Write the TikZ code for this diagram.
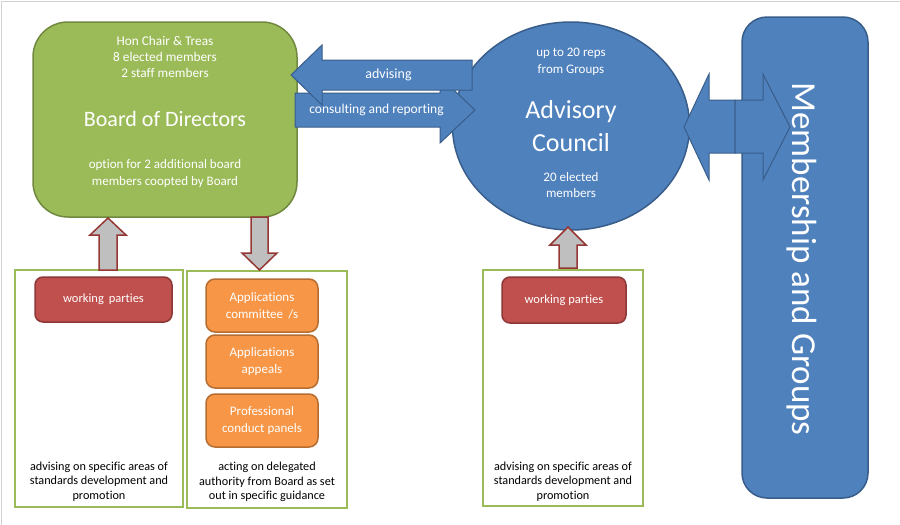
\documentclass[tikz,border=0pt]{standalone}
\usepackage{fontspec}
\setmainfont{Carlito}[Ligatures=NoCommon]
\usetikzlibrary{shapes.geometric}
\usetikzlibrary{positioning}
\definecolor{boardgreen}{HTML}{9BBB59}
\definecolor{boardedge}{HTML}{71893F}
\definecolor{acblue}{HTML}{4F81BD}
\definecolor{acedge}{HTML}{385D8A}
\definecolor{wpred}{HTML}{C0504D}
\definecolor{wpedge}{HTML}{8C3836}
\definecolor{apporange}{HTML}{F79646}
\definecolor{appedge}{HTML}{B66D31}
\definecolor{arrgray}{HTML}{BFBFBF}
\definecolor{arredge}{HTML}{953735}
\newcommand{\fs}[2]{\fontsize{#1}{#2}\selectfont}

\begin{document}
\begin{tikzpicture}[x=1pt,y=-1pt,
    board box/.style={rectangle,rounded corners=35pt,draw=boardedge,fill=boardgreen,line width=1.5pt,minimum width=264pt,minimum height=195pt},
    group box/.style={rectangle,draw=boardgreen,line width=2pt,fill=white,minimum width=168pt,minimum height=237pt},
    wp box/.style={rectangle,rounded corners=8pt,draw=wpedge,fill=wpred,line width=1.5pt,text=white,font=\fs{12.5}{14}},
    app box/.style={rectangle,rounded corners=9pt,draw=appedge,fill=apporange,line width=1.5pt,minimum width=112pt,minimum height=53pt,text=white,align=center,font=\fs{13}{17}},
    wtext/.style={text=white,align=center,inner sep=0pt},
    btext/.style={text=black,align=center,inner sep=0pt,font=\fs{12.2}{14.5}},
    blue arrow/.style={draw=acedge,fill=acblue,line width=1pt,line join=miter},
    gray arrow/.style={draw=arredge,fill=arrgray,line width=1.5pt,line join=miter}]
  \useasboundingbox (0,0) rectangle (900,525);
  \draw[gray!35,line width=1pt] (1.5,525) -- (1.5,1) -- (900,1);

  % board and council
  \node[board box] (board) at (165,119.5) {};
  \node[wtext,font=\fs{13.3}{16}] (boardtop) at (165,57) {Hon Chair \& Treas\\8 elected members\\2 staff members};
  \node[wtext,font=\fs{22}{26}] (boardname) at (165,119) {Board of Directors};
  \node[wtext,font=\fs{13}{17}] (boardopt) at (165,173.5) {option for 2 additional board\\members coopted by Board};

  \node[ellipse,draw=acedge,fill=acblue,line width=1.5pt,minimum width=237pt,minimum height=208pt] (council) at (571,126) {};
  \node[wtext,font=\fs{13}{17}] (counciltop) at (571,61.5) {up to 20 reps\\from Groups};
  \node[wtext,font=\fs{26}{33}] (councilname) at (571,126.5) {Advisory\\Council};
  \node[wtext,font=\fs{13}{16}] (councilbot) at (571,185) {20 elected\\members};

  \node[rectangle,rounded corners=25pt,draw=acedge,fill=acblue,line width=1.5pt,minimum width=126pt,minimum height=481pt] (members) at (805,257.5) {};
  \node[wtext,font=\fs{35}{40},rotate=-90] (membersname) at (802,259) {Membership and Groups};

  % arrows between board, council and members
  \draw[blue arrow] (295,93) -- (440,93) -- (440,77) -- (475,110) -- (440,143) -- (440,127) -- (295,127) -- cycle;
  \draw[blue arrow] (291,75) -- (322,45) -- (322,60) -- (472,60) -- (472,90) -- (322,90) -- (322,105) -- cycle;
  \node[wtext,font=\fs{14}{16}] (advising) at (388.5,75) {advising};
  \node[wtext,font=\fs{13.5}{16}] (consulting) at (376.5,110) {consulting and reporting};

  \draw[blue arrow] (684,127) -- (709,74) -- (709,100) -- (735,100) -- (735,153) -- (709,153) -- (709,180) -- cycle;
  \draw[blue arrow] (735,100) -- (763,100) -- (763,74) -- (790,127) -- (763,180) -- (763,153) -- (735,153) -- cycle;

  % lower groups
  \node[group box] (leftgroup) at (99,388.5) {};
  \node[group box,minimum width=160pt] (midgroup) at (267,389.5) {};
  \node[group box,minimum width=160pt,minimum height=236pt] (rightgroup) at (563,388) {};

  \node[wp box,minimum width=137pt,minimum height=45pt] (wpleft) at (103.5,299.5) {working\, parties};
  \node[wp box,minimum width=124pt,minimum height=46pt] (wpright) at (564,300) {working parties};

  \node[app box] (appcomm) at (262,305.5) {Applications\\committee\, /s};
  \node[app box] (appappeal) at (262,361.5) {Applications\\appeals};
  \node[app box] (appconduct) at (262,420.5) {Professional\\conduct panels};

  \node[btext] (lefttext) at (99,481.5) {advising on specific areas of\\standards development and\\promotion};
  \node[btext] (midtext) at (267,482) {acting on delegated\\authority from Board as set\\out in specific guidance};
  \node[btext] (righttext) at (563,481.5) {advising on specific areas of\\standards development and\\promotion};

  % gray arrows
  \draw[gray arrow] (99,270) -- (99,235) -- (90,235) -- (108,218) -- (126,235) -- (117,235) -- (117,270) -- cycle;
  \draw[gray arrow] (251,217) -- (268,217) -- (268,253) -- (277,253) -- (259.5,270) -- (242,253) -- (251,253) -- cycle;
  \draw[gray arrow] (559,268) -- (559,245) -- (550,245) -- (568,227) -- (586,245) -- (577,245) -- (577,268) -- cycle;
\end{tikzpicture}
\end{document}
